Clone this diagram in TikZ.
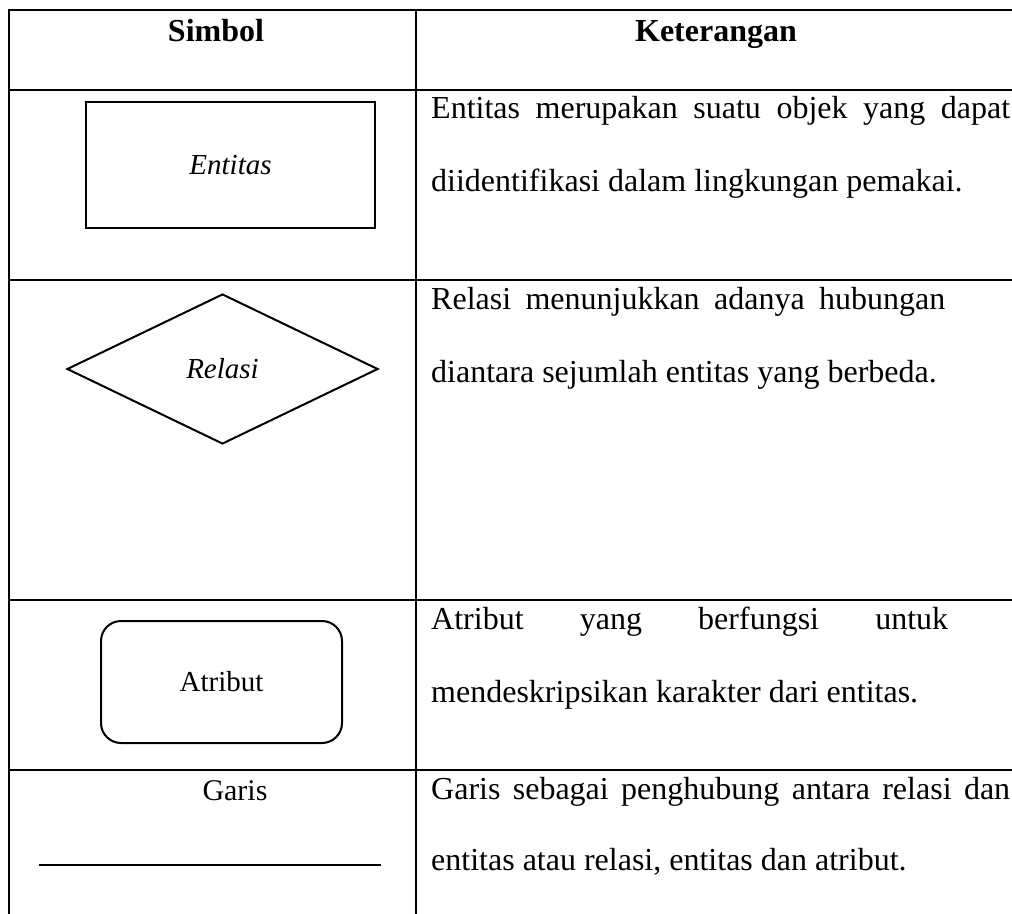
\documentclass[tikz,border=0pt]{standalone}
\usepackage{fontspec}
\setmainfont{Liberation Serif}
\usetikzlibrary{shapes.geometric}

\begin{document}
\begin{tikzpicture}[x=1pt,y=-1pt,
  rule/.style={line width=2.2pt,line cap=rect},
  symbolbox/.style={draw,line width=2pt,inner sep=0pt,font=\fontsize{29}{34}\selectfont},
  desc/.style={anchor=base west,inner sep=0pt,font=\fontsize{32}{38}\selectfont},
  head/.style={anchor=base,inner sep=0pt,font=\fontsize{32}{38}\selectfont\bfseries}]

\useasboundingbox (0,0) rectangle (1012,913);

% Column borders
\def\xl{9}
\def\xm{416}
\def\xr{1012}

% Horizontal rules
\foreach \y in {10,90,280,600,770}
  \draw[rule] (\xl,\y)--(\xr,\y);

% Vertical rules
\draw[rule] (\xl,10)--(\xl,913);
\draw[rule] (\xm,10)--(\xm,913);

% Header
\node[head] (simbol) at (216,41) {Simbol};
\node[head] (keterangan) at (716,41) {Keterangan};

% Entitas symbol
\node[symbolbox,rectangle,minimum width=289pt,minimum height=126pt]
  (entitas) at (230.5,165) {\itshape Entitas};

% Relasi symbol
\node[symbolbox,diamond,minimum width=311pt,minimum height=150pt]
  (relasi) at (222.5,369) {\itshape Relasi};

% Atribut symbol
\node[symbolbox,rectangle,rounded corners=20pt,minimum width=241pt,minimum height=122pt]
  (atribut) at (221.5,682) {Atribut};

% Garis symbol
\node[anchor=base,inner sep=0pt,font=\fontsize{30}{36}\selectfont]
  (garis) at (235,800) {Garis};
\coordinate (garisA) at (39,865);
\coordinate (garisB) at (381,865);
\draw[line width=1.5pt] (garisA)--(garisB);

% Keterangan entitas
\node[desc] (ketEnt1) at (431,118)
  {\makebox[579pt][s]{Entitas merupakan suatu objek yang dapat}};
\node[desc] (ketEnt2) at (431,191) {diidentifikasi dalam lingkungan pemakai.};

% Keterangan relasi
\node[desc] (ketRel1) at (431,309)
  {\makebox[514pt][s]{Relasi menunjukkan adanya hubungan}};
\node[desc] (ketRel2) at (431,382) {diantara sejumlah entitas yang berbeda.};

% Keterangan atribut
\node[desc] (ketAtr1) at (431,629)
  {\makebox[517pt][s]{Atribut yang berfungsi untuk}};
\node[desc] (ketAtr2) at (431,702) {mendeskripsikan karakter dari entitas.};

% Keterangan garis
\node[desc] (ketGar1) at (431,799)
  {\makebox[579pt][s]{Garis sebagai penghubung antara relasi dan}};
\node[desc] (ketGar2) at (431,870) {entitas atau relasi, entitas dan atribut.};

\end{tikzpicture}
\end{document}
